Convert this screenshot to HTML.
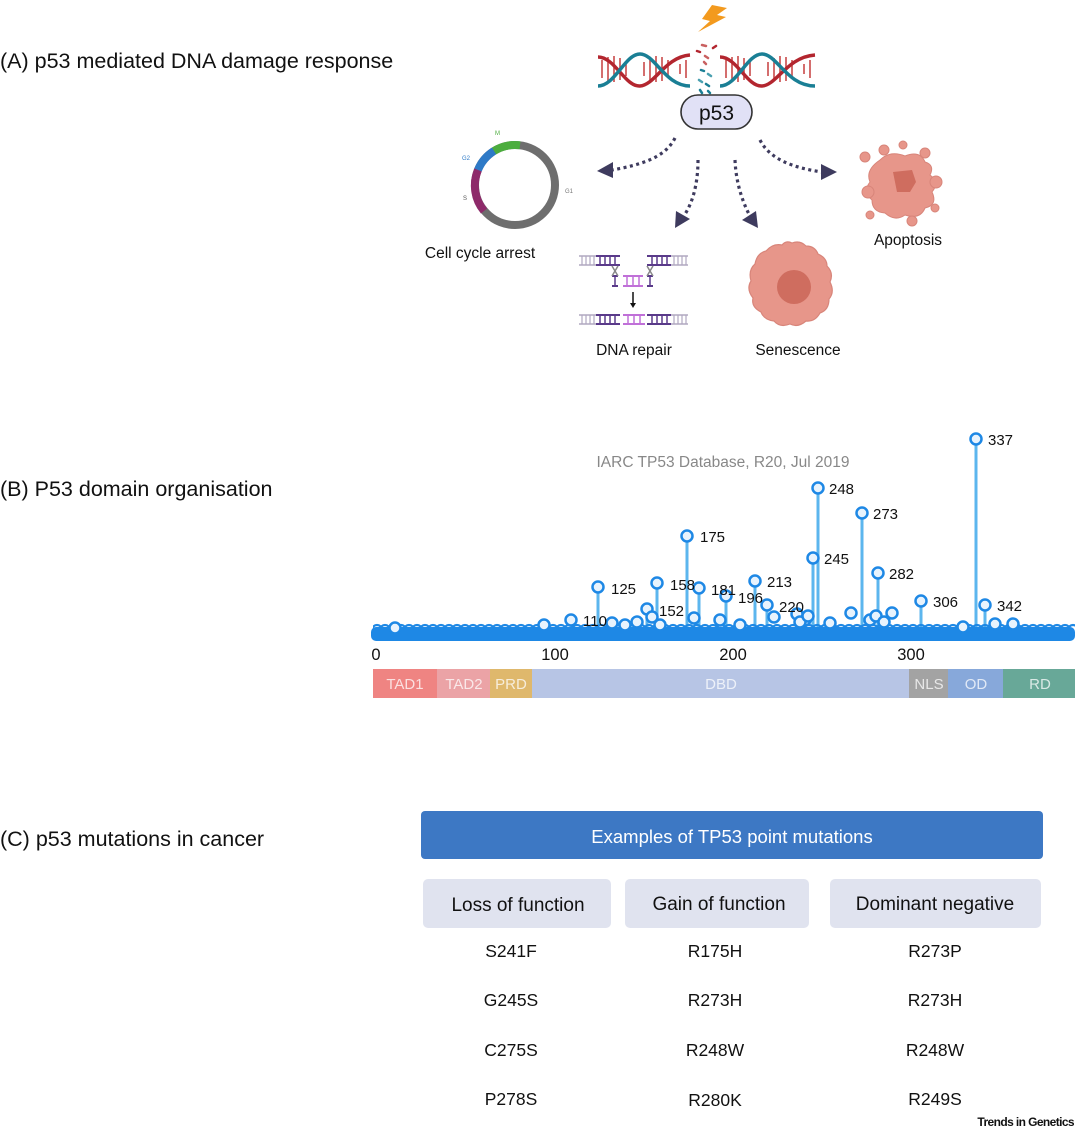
<!DOCTYPE html>
<html><head><meta charset="utf-8"><style>
html,body{margin:0;padding:0;background:#fff;}
svg{display:block;font-family:"Liberation Sans",sans-serif;}
</style></head><body>
<svg width="1080" height="1129" viewBox="0 0 1080 1129" xmlns="http://www.w3.org/2000/svg">
<defs>
<pattern id="bc" x="373" y="622" width="8" height="20" patternUnits="userSpaceOnUse">
<circle cx="4" cy="8" r="5" fill="none" stroke="#1e88e5" stroke-width="2.2"/>
</pattern>
</defs>
<!-- Section titles -->
<text x="0" y="68" font-size="21.5" fill="#111">(A) p53 mediated DNA damage response</text>
<text x="0" y="496" font-size="21.5" fill="#111">(B) P53 domain organisation</text>
<text x="0" y="846" font-size="21.5" fill="#111">(C) p53 mutations in cancer</text>

<!-- lightning -->
<polygon points="712,5 727,8 717,15 726,17 698,32 710,21 702,19" fill="#f39a1e"/>

<!-- DNA -->
<g stroke-width="1.6">
<g stroke="#c94a4a">
<line x1="602" y1="60" x2="602" y2="78"/><line x1="608" y1="57" x2="608" y2="81"/><line x1="614" y1="56" x2="614" y2="82"/><line x1="620" y1="58" x2="620" y2="80"/><line x1="626" y1="62" x2="626" y2="76"/>
<line x1="644" y1="62" x2="644" y2="76"/><line x1="650" y1="58" x2="650" y2="80"/><line x1="656" y1="56" x2="656" y2="82"/><line x1="662" y1="57" x2="662" y2="81"/><line x1="668" y1="60" x2="668" y2="78"/><line x1="680" y1="64" x2="680" y2="74"/><line x1="686" y1="60" x2="686" y2="78"/>
<line x1="726" y1="60" x2="726" y2="78"/><line x1="732" y1="57" x2="732" y2="81"/><line x1="738" y1="56" x2="738" y2="82"/><line x1="744" y1="58" x2="744" y2="80"/><line x1="750" y1="62" x2="750" y2="76"/>
<line x1="768" y1="62" x2="768" y2="76"/><line x1="774" y1="58" x2="774" y2="80"/><line x1="780" y1="56" x2="780" y2="82"/><line x1="786" y1="57" x2="786" y2="81"/><line x1="792" y1="60" x2="792" y2="78"/><line x1="804" y1="64" x2="804" y2="74"/><line x1="810" y1="60" x2="810" y2="78"/>
</g>
<path d="M598,57 C615,57 625,87 640,86 C655,85 665,57 690,55" fill="none" stroke="#b3262f" stroke-width="3.5"/>
<path d="M598,86 C615,86 625,54 640,54 C655,54 665,86 690,86" fill="none" stroke="#1a7f95" stroke-width="3.5"/>
<path d="M720,57 C737,57 747,87 762,86 C777,85 787,57 815,55" fill="none" stroke="#b3262f" stroke-width="3.5"/>
<path d="M720,86 C737,86 747,54 762,54 C777,54 787,86 815,86" fill="none" stroke="#1a7f95" stroke-width="3.5"/>
</g>
<g stroke-width="2.5" stroke-linecap="round">
<line x1="702" y1="45" x2="706" y2="46" stroke="#c96060"/><line x1="713" y1="48" x2="716" y2="46" stroke="#b3262f"/>
<line x1="697" y1="51" x2="700" y2="52" stroke="#b3262f"/><line x1="705" y1="56" x2="708" y2="58" stroke="#c96060"/>
<line x1="704" y1="62" x2="706" y2="64" stroke="#c96060"/><line x1="701" y1="70" x2="704" y2="71" stroke="#1a7f95"/>
<line x1="708" y1="74" x2="711" y2="76" stroke="#4aa0b0"/><line x1="699" y1="80" x2="702" y2="82" stroke="#4aa0b0"/>
<line x1="706" y1="84" x2="709" y2="86" stroke="#1a7f95"/><line x1="700" y1="90" x2="702" y2="93" stroke="#1a7f95"/><line x1="708" y1="91" x2="710" y2="93" stroke="#1a7f95"/>
</g>
<rect x="681" y="95" width="71" height="34" rx="17" fill="#e1e1f6" stroke="#333" stroke-width="1.6"/>
<text x="716.5" y="120" font-size="21" text-anchor="middle" fill="#111">p53</text>

<!-- dotted arrows -->
<g fill="none" stroke="#3e3b5e" stroke-width="3.2" stroke-dasharray="3,3.5">
<path d="M675,138 C665,158 640,165 612,170"/>
<path d="M698,160 C698,185 692,205 683,217"/>
<path d="M735,160 C736,185 744,205 750,216"/>
<path d="M760,140 C770,160 795,168 822,172"/>
</g>
<g fill="#3e3b5e">
<polygon points="597,171 613,162 613,178"/>
<polygon points="675,228 676,211 690,219"/>
<polygon points="758,228 742,220 756,211"/>
<polygon points="837,172 821,164 821,180"/>
</g>

<!-- cell cycle ring -->
<g fill="none" stroke-width="8">
<circle cx="515" cy="185" r="40" stroke="#6e6e6e"/>
<path d="M 494 151 A 40 40 0 0 1 520 145.3" stroke="#4cad3e"/>
<path d="M 478 170 A 40 40 0 0 1 494 151" stroke="#2e7ac7"/>
<path d="M 484 211 A 40 40 0 0 1 478 170" stroke="#8e2a6a"/>
</g>
<text x="495" y="135" font-size="6" fill="#4cad3e">M</text>
<text x="462" y="160" font-size="6" fill="#2e7ac7">G2</text>
<text x="463" y="200" font-size="6" fill="#555">S</text>
<text x="565" y="193" font-size="6" fill="#777">G1</text>
<text x="480" y="258" font-size="15.5" text-anchor="middle" fill="#111">Cell cycle arrest</text>

<!-- DNA repair -->
<g stroke-width="1.5">
<g stroke="#b0a8c0"><line x1="579" y1="256" x2="596" y2="256"/><line x1="579" y1="265" x2="596" y2="265"/>
<line x1="671" y1="256" x2="688" y2="256"/><line x1="671" y1="265" x2="688" y2="265"/>
<line x1="579" y1="315" x2="596" y2="315"/><line x1="579" y1="324" x2="596" y2="324"/>
<line x1="671" y1="315" x2="688" y2="315"/><line x1="671" y1="324" x2="688" y2="324"/></g>
<g stroke="#5a3a8a" stroke-width="2"><line x1="596" y1="256" x2="620" y2="256"/><line x1="596" y1="265" x2="620" y2="265"/>
<line x1="647" y1="256" x2="671" y2="256"/><line x1="647" y1="265" x2="671" y2="265"/>
<line x1="596" y1="315" x2="620" y2="315"/><line x1="596" y1="324" x2="620" y2="324"/>
<line x1="647" y1="315" x2="671" y2="315"/><line x1="647" y1="324" x2="671" y2="324"/>
<line x1="612" y1="276" x2="618" y2="276"/><line x1="612" y1="286" x2="618" y2="286"/>
<line x1="647" y1="276" x2="653" y2="276"/><line x1="647" y1="286" x2="653" y2="286"/></g>
<g stroke="#c070d8" stroke-width="2"><line x1="623" y1="276" x2="643" y2="276"/><line x1="623" y1="286" x2="643" y2="286"/>
<line x1="623" y1="315" x2="645" y2="315"/><line x1="623" y1="324" x2="645" y2="324"/></g>
<g stroke="#b0a8c0" stroke-width="1.2">
<line x1="582" y1="256" x2="582" y2="265"/><line x1="586" y1="256" x2="586" y2="265"/><line x1="590" y1="256" x2="590" y2="265"/><line x1="594" y1="256" x2="594" y2="265"/>
<line x1="674" y1="256" x2="674" y2="265"/><line x1="678" y1="256" x2="678" y2="265"/><line x1="682" y1="256" x2="682" y2="265"/><line x1="686" y1="256" x2="686" y2="265"/>
<line x1="582" y1="315" x2="582" y2="324"/><line x1="586" y1="315" x2="586" y2="324"/><line x1="590" y1="315" x2="590" y2="324"/><line x1="594" y1="315" x2="594" y2="324"/>
<line x1="674" y1="315" x2="674" y2="324"/><line x1="678" y1="315" x2="678" y2="324"/><line x1="682" y1="315" x2="682" y2="324"/><line x1="686" y1="315" x2="686" y2="324"/></g>
<g stroke="#5a3a8a" stroke-width="1.5">
<line x1="600" y1="256" x2="600" y2="265"/><line x1="605" y1="256" x2="605" y2="265"/><line x1="610" y1="256" x2="610" y2="265"/><line x1="615" y1="256" x2="615" y2="265"/>
<line x1="652" y1="256" x2="652" y2="265"/><line x1="657" y1="256" x2="657" y2="265"/><line x1="662" y1="256" x2="662" y2="265"/><line x1="667" y1="256" x2="667" y2="265"/>
<line x1="600" y1="315" x2="600" y2="324"/><line x1="605" y1="315" x2="605" y2="324"/><line x1="610" y1="315" x2="610" y2="324"/><line x1="615" y1="315" x2="615" y2="324"/>
<line x1="652" y1="315" x2="652" y2="324"/><line x1="657" y1="315" x2="657" y2="324"/><line x1="662" y1="315" x2="662" y2="324"/><line x1="667" y1="315" x2="667" y2="324"/>
<line x1="615" y1="276" x2="615" y2="286"/><line x1="650" y1="276" x2="650" y2="286"/></g>
<g stroke="#c070d8" stroke-width="1.5">
<line x1="627" y1="276" x2="627" y2="286"/><line x1="633" y1="276" x2="633" y2="286"/><line x1="639" y1="276" x2="639" y2="286"/>
<line x1="628" y1="315" x2="628" y2="324"/><line x1="634" y1="315" x2="634" y2="324"/><line x1="640" y1="315" x2="640" y2="324"/></g>
<g stroke="#888"><line x1="612" y1="266" x2="618" y2="276"/><line x1="618" y1="266" x2="612" y2="276"/>
<line x1="647" y1="266" x2="653" y2="276"/><line x1="653" y1="266" x2="647" y2="276"/></g>
<line x1="633" y1="292" x2="633" y2="305" stroke="#111"/>
</g>
<polygon points="630,303 636,303 633,308" fill="#111"/>
<text x="634" y="355" font-size="15.5" text-anchor="middle" fill="#111">DNA repair</text>

<!-- senescence -->
<path d="M792,243 Q800,240 806,246 Q815,246 818,254 Q827,258 827,266 Q834,273 830,282 Q835,292 829,299 Q829,310 820,313 Q815,322 806,321 Q798,328 790,324 Q780,328 774,321 Q764,320 761,312 Q751,307 753,298 Q746,289 751,281 Q748,270 755,264 Q757,253 766,251 Q773,243 782,245 Q786,240 792,243 Z" fill="#e7968a" stroke="#d8857a" stroke-width="1.2"/>
<circle cx="794" cy="287" r="17" fill="#cf6d5f"/>
<text x="798" y="355" font-size="15.5" text-anchor="middle" fill="#111">Senescence</text>

<!-- apoptosis -->
<g fill="#e7968a" stroke="#d8857a" stroke-width="1">
<path d="M880,160 Q890,150 905,156 Q920,150 925,162 Q935,165 930,175 Q940,182 932,192 Q938,205 925,208 Q920,220 905,215 Q895,222 885,213 Q872,212 872,200 Q862,192 870,182 Q865,170 880,160 Z"/>
<circle cx="865" cy="157" r="5"/><circle cx="884" cy="150" r="5"/><circle cx="903" cy="145" r="4"/><circle cx="925" cy="153" r="5"/><circle cx="936" cy="182" r="6"/><circle cx="935" cy="208" r="4"/><circle cx="868" cy="192" r="6"/><circle cx="870" cy="215" r="4"/><circle cx="912" cy="221" r="5"/>
</g>
<path d="M893,172 L912,170 L916,182 L910,192 L897,192 Z" fill="#cf6d5f"/>
<text x="908" y="245" font-size="15.5" text-anchor="middle" fill="#111">Apoptosis</text>

<!-- Chart -->
<text x="723" y="467" font-size="15.5" text-anchor="middle" fill="#888">IARC TP53 Database, R20, Jul 2019</text>
<g stroke="#5cb6ee" stroke-width="3">
<line x1="976" y1="439" x2="976" y2="632"/><line x1="818" y1="488" x2="818" y2="632"/><line x1="862" y1="513" x2="862" y2="632"/>
<line x1="687" y1="536" x2="687" y2="632"/><line x1="813" y1="558" x2="813" y2="632"/><line x1="878" y1="573" x2="878" y2="632"/>
<line x1="755" y1="581" x2="755" y2="632"/><line x1="598" y1="587" x2="598" y2="632"/><line x1="657" y1="583" x2="657" y2="632"/>
<line x1="699" y1="588" x2="699" y2="632"/><line x1="726" y1="596" x2="726" y2="632"/><line x1="921" y1="601" x2="921" y2="632"/>
<line x1="985" y1="605" x2="985" y2="632"/><line x1="767" y1="605" x2="767" y2="632"/><line x1="647" y1="609" x2="647" y2="632"/>
<line x1="571" y1="620" x2="571" y2="632"/>
</g>
<rect x="371" y="627" width="704" height="14" rx="5" fill="#1e88e5"/>
<rect x="373" y="620" width="702" height="12" fill="url(#bc)"/>
<g fill="#e8f3fd" stroke="#1e88e5" stroke-width="2.5">
<circle cx="976" cy="439" r="5.5"/><circle cx="818" cy="488" r="5.5"/><circle cx="862" cy="513" r="5.5"/>
<circle cx="687" cy="536" r="5.5"/><circle cx="813" cy="558" r="5.5"/><circle cx="878" cy="573" r="5.5"/>
<circle cx="755" cy="581" r="5.5"/><circle cx="598" cy="587" r="5.5"/><circle cx="657" cy="583" r="5.5"/>
<circle cx="699" cy="588" r="5.5"/><circle cx="726" cy="596" r="5.5"/><circle cx="921" cy="601" r="5.5"/>
<circle cx="985" cy="605" r="5.5"/><circle cx="767" cy="605" r="5.5"/><circle cx="647" cy="609" r="5.5"/>
<circle cx="571" cy="620" r="5.5"/><circle cx="694" cy="618" r="5.5"/><circle cx="851" cy="613" r="5.5"/><circle cx="892" cy="613" r="5.5"/><circle cx="720" cy="620" r="5.5"/><circle cx="1013" cy="624" r="5.5"/><circle cx="805" cy="620" r="5.5"/><circle cx="395" cy="628" r="5.5"/>
<circle cx="652" cy="617" r="5.5"/><circle cx="637" cy="622" r="5.5"/><circle cx="625" cy="625" r="5.5"/><circle cx="612" cy="623" r="5.5"/>
<circle cx="774" cy="617" r="5.5"/><circle cx="797" cy="614" r="5.5"/><circle cx="800" cy="622" r="5.5"/><circle cx="808" cy="616" r="5.5"/>
<circle cx="830" cy="623" r="5.5"/><circle cx="870" cy="620" r="5.5"/><circle cx="876" cy="616" r="5.5"/><circle cx="884" cy="622" r="5.5"/>
<circle cx="995" cy="624" r="5.5"/><circle cx="963" cy="627" r="5.5"/><circle cx="740" cy="625" r="5.5"/><circle cx="660" cy="625" r="5.5"/><circle cx="544" cy="625" r="5.5"/>
</g>
<g font-size="15" fill="#111">
<text x="988" y="445">337</text><text x="829" y="494">248</text><text x="873" y="519">273</text><text x="700" y="542">175</text>
<text x="824" y="564">245</text><text x="889" y="579">282</text><text x="767" y="587">213</text><text x="611" y="594">125</text>
<text x="670" y="590">158</text><text x="711" y="595">181</text><text x="738" y="603">196</text><text x="933" y="607">306</text>
<text x="997" y="611">342</text><text x="779" y="612">220</text><text x="659" y="616">152</text><text x="583" y="626">110</text>
</g>
<g font-size="16.5" fill="#111" text-anchor="middle">
<text x="376" y="660">0</text><text x="555" y="660">100</text><text x="733" y="660">200</text><text x="911" y="660">300</text>
</g>
<rect x="373" y="669" width="64" height="29" fill="#ef8482"/>
<rect x="437" y="669" width="53" height="29" fill="#eba3a6"/>
<rect x="490" y="669" width="42" height="29" fill="#dfb86c"/>
<rect x="532" y="669" width="377" height="29" fill="#b7c5e5"/>
<rect x="909" y="669" width="39" height="29" fill="#a3a3a3"/>
<rect x="948" y="669" width="55" height="29" fill="#87a8da"/>
<rect x="1003" y="669" width="72" height="29" fill="#68a898"/>
<g font-size="15" fill="#fff" fill-opacity="0.75" text-anchor="middle">
<text x="405" y="689">TAD1</text><text x="464" y="689">TAD2</text><text x="511" y="689">PRD</text><text x="721" y="689">DBD</text>
<text x="929" y="689">NLS</text><text x="976" y="689">OD</text><text x="1040" y="689">RD</text>
</g>

<!-- Table -->
<rect x="421" y="811" width="622" height="48" rx="4" fill="#3d78c4"/>
<text x="732" y="843" font-size="18.5" fill="#fff" text-anchor="middle">Examples of TP53 point mutations</text>
<rect x="423" y="879" width="188" height="49" rx="5" fill="#e0e3ef"/>
<rect x="625" y="879" width="184" height="49" rx="5" fill="#e0e3ef"/>
<rect x="830" y="879" width="211" height="49" rx="5" fill="#e0e3ef"/>
<g font-size="19" fill="#111" text-anchor="middle">
<text x="518" y="911">Loss of function</text><text x="719" y="910">Gain of function</text><text x="935" y="910">Dominant negative</text>
</g>
<g font-size="17.5" fill="#111" text-anchor="middle">
<text x="511" y="957">S241F</text><text x="715" y="957">R175H</text><text x="935" y="957">R273P</text>
<text x="511" y="1006">G245S</text><text x="715" y="1006">R273H</text><text x="935" y="1006">R273H</text>
<text x="511" y="1056">C275S</text><text x="715" y="1056">R248W</text><text x="935" y="1056">R248W</text>
<text x="511" y="1105">P278S</text><text x="715" y="1106">R280K</text><text x="935" y="1105">R249S</text>
</g>
<text x="1074" y="1126" font-size="12" font-weight="bold" fill="#111" text-anchor="end" letter-spacing="-0.6">Trends in Genetics</text>
</svg>
</body></html>
